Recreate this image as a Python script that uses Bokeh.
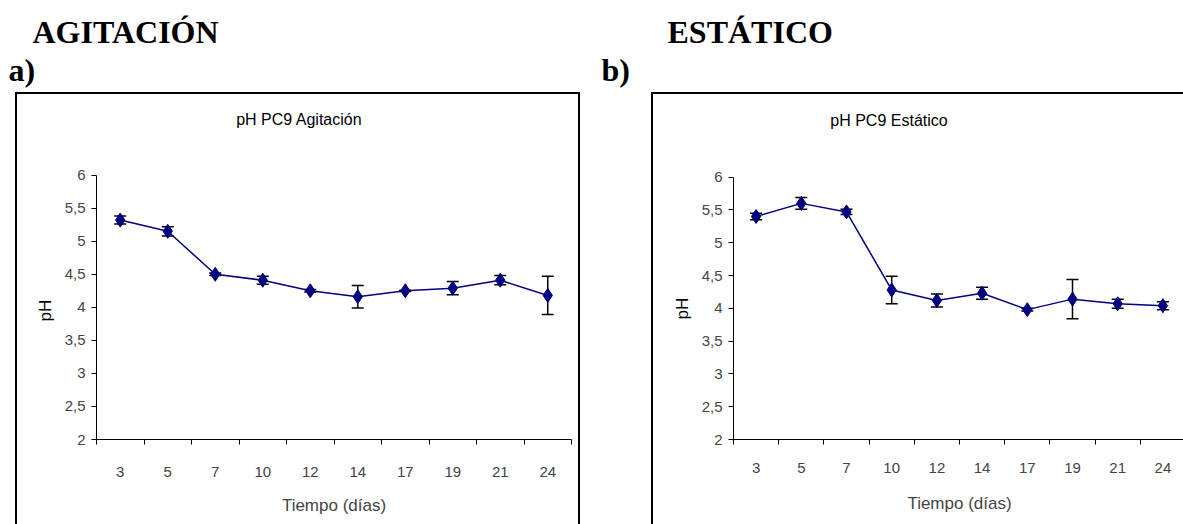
from bokeh.plotting import figure
from bokeh.models import (ColumnDataSource, Whisker, TeeHead, FactorRange, Range1d,
                          LinearAxis, CategoricalAxis, FixedTicker, CustomJSTickFormatter,
                          Title, Spacer, Label)
from bokeh.layouts import row, column
from bokeh.embed import file_html
from bokeh.resources import INLINE
from bokeh.core.validation import silence
from bokeh.core.validation.warnings import MISSING_RENDERERS

silence(MISSING_RENDERERS, True)

# ---------------- data ----------------
days = ["3", "5", "7", "10", "12", "14", "17", "19", "21", "24"]
ph_agitacion = [5.32, 5.15, 4.50, 4.41, 4.25, 4.16, 4.25, 4.29, 4.41, 4.18]
err_agitacion = [0.06, 0.07, 0.02, 0.06, 0.02, 0.17, 0.01, 0.10, 0.07, 0.29]
ph_estatico = [5.40, 5.60, 5.47, 4.28, 4.12, 4.23, 3.98, 4.14, 4.07, 4.04]
err_estatico = [0.05, 0.09, 0.04, 0.21, 0.10, 0.09, 0.02, 0.30, 0.07, 0.06]
y_ticks = [2, 2.5, 3, 3.5, 4, 4.5, 5, 5.5, 6]

SANS = "Liberation Sans"
SERIF = "Liberation Serif"
NAVY = "#000080"


def heading(width, height, big, small, big_off, small_off):
    h = figure(width=width, height=height, output_backend="svg", toolbar_location=None,
               x_axis_location=None, y_axis_location=None,
               min_border_left=0, min_border_right=0, min_border_top=87, min_border_bottom=0)
    h.xgrid.visible = False
    h.ygrid.visible = False
    h.outline_line_color = None
    h.title.visible = False
    h.add_layout(Title(text=small, align="left", offset=small_off, standoff=0,
                       text_font=SERIF, text_font_size="32px", text_font_style="bold",
                       text_color="black"), "above")
    h.add_layout(Title(text=big, align="left", offset=big_off, standoff=0,
                       text_font=SERIF, text_font_size="32px", text_font_style="bold",
                       text_color="black"), "above")
    return h


def chart(title, ph, err, width, height, bl, br, bb, y_top, title_xy, ylab_off,
          lab_so, axl_so, css):
    # the plot area reaches up to the box top so that the chart title can sit inside it;
    # the y axis itself is bounded to 2..6
    p = figure(x_range=FactorRange(factors=days), y_range=Range1d(y_ticks[0], y_top),
               width=width, height=height, output_backend="svg", toolbar_location=None,
               x_axis_location=None, y_axis_location=None,
               min_border_left=bl, min_border_right=br, min_border_top=0, min_border_bottom=bb)
    p.title.visible = False
    p.xgrid.visible = False
    p.ygrid.visible = False
    p.outline_line_color = None
    p.styles = css

    yax = LinearAxis(ticker=FixedTicker(ticks=y_ticks), bounds=(y_ticks[0], y_ticks[-1]),
                     formatter=CustomJSTickFormatter(code="return String(tick).replace('.', ',')"),
                     major_label_text_font=SANS, major_label_text_font_size="15px",
                     major_label_standoff=6, major_tick_out=5, major_tick_in=0,
                     minor_tick_line_color=None, axis_line_color="black",
                     major_tick_line_color="black")
    p.add_layout(yax, "left")
    # y axis title, placed beside the 2..6 part of the axis
    p.add_layout(Title(text="pH", align="left", offset=ylab_off, standoff=14,
                       text_font=SANS, text_font_size="17px", text_font_style="normal",
                       text_color="black"), "left")

    # tick marks on the category boundaries (synthetic coordinates 0..n), no labels
    edge_ax = LinearAxis(ticker=FixedTicker(ticks=[], minor_ticks=list(range(len(days) + 1))),
                         minor_tick_out=5, minor_tick_in=0, minor_tick_line_color="black",
                         major_tick_line_color=None, axis_line_color="black")
    p.add_layout(edge_ax, "below")

    xax = CategoricalAxis(axis_line_color=None, major_tick_line_color=None,
                          major_label_text_font=SANS, major_label_text_font_size="15px",
                          major_label_standoff=lab_so,
                          axis_label="Tiempo (días)", axis_label_text_font=SANS,
                          axis_label_text_font_size="17px", axis_label_text_font_style="normal",
                          axis_label_standoff=axl_so)
    p.add_layout(xax, "below")

    p.add_layout(Label(x=title_xy[0], y=title_xy[1], text=title, text_align="center",
                       text_baseline="middle", text_font=SANS, text_font_size="16px",
                       text_color="black"))

    src = ColumnDataSource(dict(x=days, y=ph,
                                upper=[v + e for v, e in zip(ph, err)],
                                lower=[v - e for v, e in zip(ph, err)]))
    wh = Whisker(source=src, base="x", upper="upper", lower="lower", dimension="height",
                 line_color="black", line_width=1.5, level="underlay",
                 upper_head=TeeHead(size=12, line_color="black", line_width=1.5),
                 lower_head=TeeHead(size=12, line_color="black", line_width=1.5))
    p.add_layout(wh)
    p.line("x", "y", source=src, line_color=NAVY, line_width=1.5)
    p.scatter("x", "y", source=src, marker="diamond", size=14, color=NAVY)
    return p


head_left = heading(592, 92, "AGITACIÓN", "a)", 32, 8)
head_right = heading(591, 92, "ESTÁTICO", "b)", 75, 9)

left = chart("pH PC9 Agitación", ph_agitacion, err_agitacion, 565, 432, 79, 11, 81,
             7.22, (4.27, 6.84), 118, 16, 16,
             {"border-top": "2px solid black", "border-left": "2px solid black",
              "border-right": "2px solid black"})
right = chart("pH PC9 Estático", ph_estatico, err_estatico, 532, 432, 80, 0, 87,
              7.26, (3.44, 6.87), 120, 12, 18,
              {"border-top": "2px solid black", "border-left": "2px solid black"})

layout = column(row(head_left, head_right),
                row(Spacer(width=15, height=10), left, Spacer(width=71, height=10), right))

open("out.html", "w").write(file_html(layout, INLINE))
